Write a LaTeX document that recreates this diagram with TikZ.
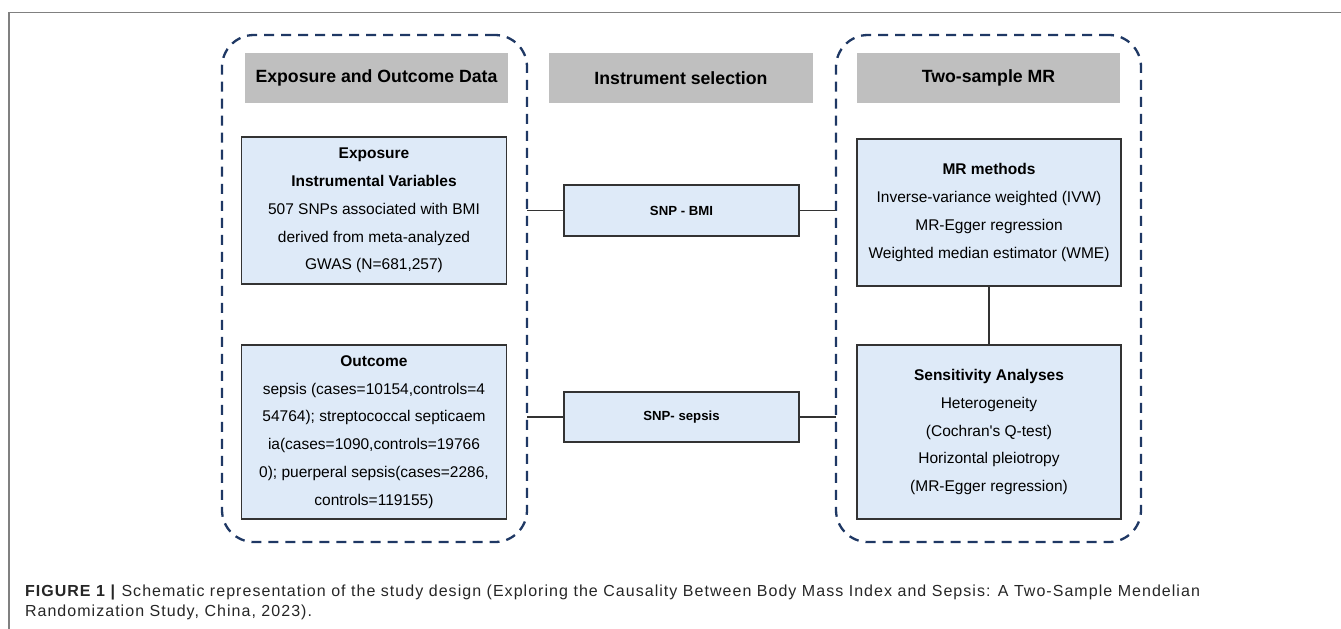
\documentclass[tikz,border=0pt]{standalone}
\usepackage{fontspec}
\setmainfont{Liberation Sans}
\usepackage{tikz}
\usetikzlibrary{positioning}
\usepackage{xcolor}

\definecolor{navy}{HTML}{1F3864}
\definecolor{lightblue}{HTML}{DEEAF8}
\definecolor{headgray}{HTML}{BFBFBF}
\definecolor{boxline}{HTML}{333333}

\begin{document}
\begin{tikzpicture}[
    x=1pt, y=-1pt,
    every node/.style={inner sep=0pt, outer sep=0pt},
    group/.style={draw=navy, line width=2.3pt, dash pattern=on 10pt off 7pt, rounded corners=32pt, minimum width=305pt, minimum height=507pt},
    head/.style={fill=headgray, minimum width=263pt, minimum height=50pt, font=\fontsize{17.7}{20}\selectfont\bfseries},
    infobox/.style={draw=boxline, fill=lightblue, line width=1.3pt, align=center, minimum width=265pt, font=\fontsize{15.5}{27.8}\selectfont},
    snpbox/.style={draw=boxline, fill=lightblue, line width=1.3pt, minimum width=235pt, minimum height=51pt, font=\fontsize{13.2}{15}\selectfont\bfseries},
    link/.style={draw=boxline, line width=1.3pt}
]
\useasboundingbox (0,0) rectangle (1341,629);

% =============================
% figure frame
% =============================
\draw[gray, line width=1.5pt] (9,629) -- (9,12.5) -- (1341,12.5);

% =============================
% 0. Exposure and Outcome Data
% =============================
\node[group] (grpL) at (374.5,288.5) {};
\node[head] (hL) at (376.5,78) {Exposure and Outcome Data};

\node[infobox, minimum height=147pt] (expo) at (374,210.5) {%
\textbf{Exposure}\\ \textbf{Instrumental Variables}\\ 507 SNPs associated with BMI\\ derived from meta-analyzed\\ GWAS (N=681,257)};

\node[infobox, minimum height=174pt] (outc) at (374,432) {%
\textbf{Outcome}\\ sepsis (cases=10154,controls=4\\ 54764); streptococcal septicaem\\ ia(cases=1090,controls=19766\\ 0); puerperal sepsis(cases=2286,\\ controls=119155)};

% =============================
% 1. Instrument selection
% =============================
\node[head, minimum width=264pt] (hM) at (681,78) {Instrument selection};

\node[snpbox] (snpA) at (681.5,210.5) {SNP - BMI};
\node[snpbox, minimum height=50pt] (snpB) at (681.5,417) {SNP- sepsis};

% =============================
% 2. Two-sample MR
% =============================
\node[group] (grpR) at (988.5,288.5) {};
\node[head] (hR) at (988.5,78) {Two-sample MR};

\node[infobox, minimum width=264pt, minimum height=147pt] (mrm) at (989,212.5) {%
\textbf{MR methods}\\ Inverse-variance weighted (IVW)\\ MR-Egger regression\\ Weighted median estimator (WME)};

\node[infobox, minimum width=264pt, minimum height=174pt] (sens) at (989,432) {%
\textbf{Sensitivity Analyses}\\ Heterogeneity\\ (Cochran\textquotesingle s Q-test)\\ Horizontal pleiotropy\\ (MR-Egger regression)};

% connectors
\draw[link] (grpL.east |- snpA) -- (snpA.west);
\draw[link] (snpA.east) -- (grpR.west |- snpA);
\draw[link] (grpL.east |- snpB) -- (snpB.west);
\draw[link] (snpB.east) -- (grpR.west |- snpB);
\draw[link] (mrm.south) -- (sens.north);

% caption
\node[anchor=base west, align=left, text=black!85, font=\fontsize{16}{19.5}\selectfont\addfontfeature{LetterSpace=6.5}] (cap) at (25,616) {%
\textbf{FIGURE 1 |} Schematic representation of the study design (Exploring the Causality Between Body Mass Index and Sepsis: A Two-Sample Mendelian\\
Randomization Study, China, 2023).};
\end{tikzpicture}
\end{document}
